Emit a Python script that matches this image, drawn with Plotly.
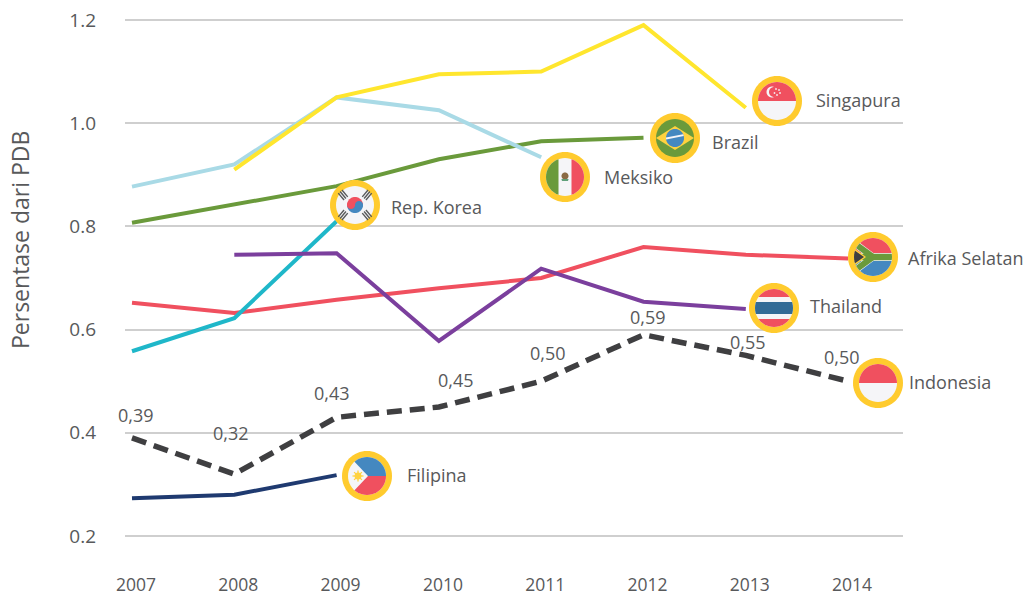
import math
import plotly.graph_objects as go

years = [2007, 2008, 2009, 2010, 2011, 2012, 2013, 2014]
singapura = [None, 0.91, 1.05, 1.095, 1.10, 1.19, 1.03, None]
meksiko = [0.877, 0.92, 1.05, 1.025, 0.934, None, None, None]
brazil = [0.807, 0.842, 0.878, 0.93, 0.965, 0.972, None, None]
korea = [0.558, 0.622, 0.81, None, None, None, None, None]
afrika = [0.652, 0.632, 0.658, 0.68, 0.70, 0.76, 0.745, 0.738]
thailand = [None, 0.745, 0.748, 0.578, 0.718, 0.654, 0.64, None]
indonesia = [0.39, 0.32, 0.43, 0.45, 0.50, 0.59, 0.55, 0.50]
indonesia_labels = ["0,39", "0,32", "0,43", "0,45", "0,50", "0,59", "0,55", "0,50"]
filipina = [0.273, 0.28, 0.318, None, None, None, None, None]
y_ticks = [0.2, 0.4, 0.6, 0.8, 1.0, 1.2]

FONT = "Open Sans"
GREY = "#58595B"
W, H = 1027, 595
L, R, T, B = 125, 903, 8, 560

# page pixel <-> data, for layout only
px_per_year = 102.3
x0_px = 132.0
def dx(p): return 2007 + (p - x0_px) / px_per_year
px_per_unit = (536 - 20) / 1.0
def dy(p): return 1.2 - (p - 20) / px_per_unit
def pxp(p): return (p - L) / (R - L)
def pyp(p): return (B - p) / (B - T)

x_range = [dx(L), dx(R)]
y_range = [dy(B), dy(T)]

fig = go.Figure()
series = [
    (filipina, "#1F3A70", 4, "solid"),
    (afrika, "#F0505F", 4, "solid"),
    (korea, "#1FB7C9", 4, "solid"),
    (brazil, "#6A9A3B", 4, "solid"),
    (meksiko, "#A9DAE6", 4, "solid"),
    (singapura, "#FFE62E", 4, "solid"),
    (thailand, "#7B3F9D", 4, "solid"),
    (indonesia, "#3F3F41", 5.5, "15px,8px"),
]
for vals, col, w, dash in series:
    fig.add_trace(go.Scatter(x=years, y=vals, mode="lines", showlegend=False, hoverinfo="skip",
                             line=dict(color=col, width=w, dash=dash)))

RED, WHITE, GREEN, BLUE, NAVY, RING, GOLD = "#F0505F", "#F5F5F8", "#6A9A3B", "#4488C0", "#336B96", "#FFCB2E", "#FFD23F"
DARK = "#3F3F41"
RAD = 19

def circle(cx=0, cy=0, r=RAD, n=48):
    return [(cx + r * math.cos(2 * math.pi * i / n), cy + r * math.sin(2 * math.pi * i / n)) for i in range(n)]

def clip(poly, a, b, c):
    """keep a*x+b*y<=c"""
    out = []
    for i, p in enumerate(poly):
        q = poly[(i + 1) % len(poly)]
        fp, fq = a * p[0] + b * p[1] - c, a * q[0] + b * q[1] - c
        if fp <= 0:
            out.append(p)
        if fp * fq < 0:
            t = fp / (fp - fq)
            out.append((p[0] + t * (q[0] - p[0]), p[1] + t * (q[1] - p[1])))
    return out

def band(y1, y2, poly=None):
    return clip(clip(poly or circle(), 0, 1, y2), 0, -1, -y1)

def vband(x1, x2):
    return clip(clip(circle(), 1, 0, x2), -1, 0, -x1)

def convex(pts):
    """circle clipped by CCW convex polygon"""
    poly = circle()
    for i, p in enumerate(pts):
        q = pts[(i + 1) % len(pts)]
        a, b = q[1] - p[1], -(q[0] - p[0])
        poly = clip(poly, a, b, a * p[0] + b * p[1])
    return poly

def rot_rect(cx, cy, w, h, deg):
    t = math.radians(deg)
    c, s = math.cos(t), math.sin(t)
    return [(cx + x * c - y * s, cy + x * s + y * c) for x, y in
            [(-w / 2, -h / 2), (w / 2, -h / 2), (w / 2, h / 2), (-w / 2, h / 2)]]

def bar(x1, y1, x2, y2, w):
    cx, cy = (x1 + x2) / 2, (y1 + y2) / 2
    ln = math.hypot(x2 - x1, y2 - y1)
    return convex(rot_rect(cx, cy, ln, w, math.degrees(math.atan2(y2 - y1, x2 - x1))))

S = circle
singapore = [(S(), WHITE), (band(0, 19), RED), (S(-5, 9, 5.5), WHITE), (S(-3, 9, 5), RED)] + \
    [(S(x, y, 0.9), WHITE) for x, y in [(-1, 12), (2, 11), (3, 8), (0, 6), (-2.5, 8)]]
brazil_f = [(S(), GREEN), (convex([(-19, 0), (0, -12), (19, 0), (0, 12)]), GOLD), (S(0, 0, 9), BLUE),
            (clip(clip(S(0, 0, 9), -0.2, 1, 2.2), 0.2, -1, -0.2), WHITE)]
mexico = [(S(), WHITE), (vband(-19, -6.5), GREEN), (vband(6.5, 19), RED), (S(0, 1, 3.5), "#8A6A45"),
          (band(-4, -2, S(0, -2, 3.5)), "#5FA07A")]
sk = [(S(), WHITE), (band(0, 9, S(0, 0, 8)), RED), (band(-9, 0, S(0, 0, 8)), BLUE),
      (S(-4, 0, 4), RED), (S(4, 0, 4), BLUE)]
for cx, cy, deg in [(-12, 10, 40), (12, 10, -40), (-12, -10, -40), (12, -10, 40)]:
    for off in (-2.4, 0, 2.4):
        t = math.radians(deg)
        sk.append((rot_rect(cx + off * math.cos(t), cy + off * math.sin(t), 1.4, 9, deg), "#58595B"))
za = [(S(), WHITE), (band(4, 19), RED), (band(-19, -4), BLUE),
      (bar(-19, 14, 0, 0, 7), WHITE), (bar(-19, -14, 0, 0, 7), WHITE), (band(-4, 4), WHITE),
      (bar(-19, 14, 0, 0, 6), GREEN), (bar(-19, -14, 0, 0, 6), GREEN), (band(-3.2, 3.2), GREEN),
      (convex([(-19, -9), (-7, 0), (-19, 9)]), GOLD), (convex([(-19, -7), (-9, 0), (-19, 7)]), DARK)]
th = [(S(), WHITE), (band(11, 19), RED), (band(-19, -11), RED), (band(-6, 6), NAVY)]
idn = [(S(), WHITE), (band(0, 19), RED)]
ph = [(S(), WHITE), (convex([(-17, 19), (1, 0), (19, 0), (19, 19)]), BLUE),
      (convex([(1, 0), (-17, -19), (19, -19), (19, 0)]), RED)]
for k in range(4):
    ph.append((rot_rect(-9, 0, 1.3, 11, k * 45), GOLD))
ph.append((S(-9, 0, 3.5), GOLD))

flags = [
    (777, 101, singapore), (675, 138, brazil_f), (565, 177, mexico), (355, 205, sk),
    (873, 257, za), (774, 308, th), (878, 383, idn), (367, 476, ph),
]
shapes = []
def common(cx, cy):
    return dict(type="path", xref="x", yref="y", xsizemode="pixel", ysizemode="pixel",
                xanchor=dx(cx), yanchor=dy(cy), layer="above", line_width=0)
for cx, cy, parts in flags:
    shapes.append(dict(common(cx, cy),
                       path="M" + "L".join(f"{x:.2f},{y:.2f}" for x, y in circle(r=25, n=64)) + "Z",
                       fillcolor=RING))
    for poly, col in parts:
        shapes.append(dict(common(cx, cy),
                           path="M" + "L".join(f"{x:.2f},{y:.2f}" for x, y in poly) + "Z",
                           fillcolor=col))

annotations = []
names = [("Singapura", 814, 100), ("Brazil", 710, 142), ("Meksiko", 602, 177), ("Rep. Korea", 389, 207),
         ("Afrika Selatan", 906, 258), ("Thailand", 808, 306), ("Indonesia", 907, 382), ("Filipina", 405, 475)]
for t, px, py in names:
    annotations.append(dict(text=t, x=pxp(px), y=pyp(py), xref="paper", yref="paper", xanchor="left", yanchor="middle",
                            showarrow=False, font=dict(family=FONT, size=18, color=GREY)))
label_shift = [(4, 23), (-3, 41), (-5, 24), (17, 27), (7, 28), (4, 18), (2, 13), (-6, 24)]
for yr, v, lab, (sx, sy) in zip(years, indonesia, indonesia_labels, label_shift):
    annotations.append(dict(text=lab, x=yr, y=v, xref="x", yref="y", xshift=sx, yshift=sy, showarrow=False,
                            font=dict(family=FONT, size=18, color=GREY)))
annotations.append(dict(text="Persentase dari PDB", x=pxp(20), y=pyp(240), xref="paper", yref="paper",
                        textangle=-90, showarrow=False, xanchor="center", yanchor="middle",
                        font=dict(family=FONT, size=23, color=GREY)))

fig.update_layout(
    width=W, height=H, autosize=False, paper_bgcolor="white", plot_bgcolor="white",
    margin=dict(l=L, r=W - R, t=T, b=H - B, pad=0), showlegend=False,
    shapes=shapes, annotations=annotations,
    xaxis=dict(range=x_range, tickvals=years, ticktext=[str(y) for y in years], showgrid=False, zeroline=False,
               showline=False, ticks="", ticklabelstandoff=12, ticklabelshift=4, automargin=False,
               tickfont=dict(family=FONT, size=17.5, color=GREY)),
    yaxis=dict(range=y_range, tickvals=y_ticks, ticktext=[f"{v:.1f}" for v in y_ticks], showgrid=True,
               gridcolor="#CFCFCF", gridwidth=2, zeroline=False, showline=False, ticks="", ticklabelstandoff=28,
               automargin=False, tickfont=dict(family=FONT, size=19, color=GREY)),
)
fig.write_html("out.html", config={"displayModeBar": False},
               post_script="document.body.style.margin='0';document.documentElement.style.overflow='hidden';")
